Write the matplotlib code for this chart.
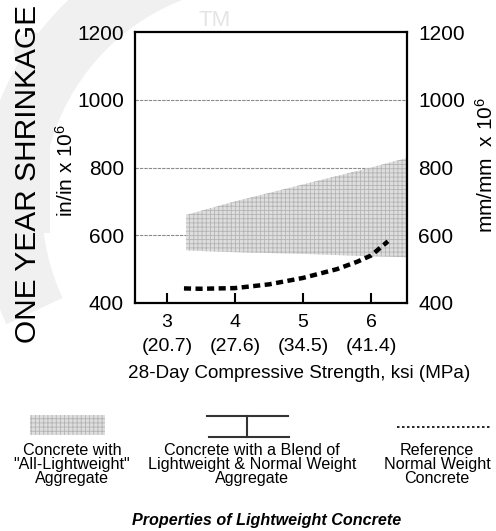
"""
One-year shrinkage vs 28-day compressive strength for lightweight concrete.
"""
import matplotlib
matplotlib.use("Agg")
import matplotlib.pyplot as plt
from matplotlib.patches import Rectangle, Wedge, Circle

plt.rcParams['font.family'] = ['Liberation Sans', 'DejaVu Sans']
plt.rcParams['mathtext.fontset'] = 'custom'
plt.rcParams['mathtext.rm'] = 'Liberation Sans'
plt.rcParams['mathtext.default'] = 'rm'
plt.rcParams['hatch.linewidth'] = 0.6

# data
ksi_ticks = [3, 4, 5, 6]
mpa_labels = ["(20.7)", "(27.6)", "(34.5)", "(41.4)"]
shrink_ticks = [400, 600, 800, 1000, 1200]
grid_levels = [600, 800, 1000]

# "all-lightweight" band (upper / lower edges)
band_x = [3.28, 4.0, 5.0, 6.0, 6.53]
band_top = [660, 700, 750, 800, 828]
band_bot = [555, 550, 545, 538, 535]

# reference normal weight concrete
ref_x = [3.25, 3.5, 4.0, 4.5, 5.0, 5.5, 5.8, 6.0, 6.25]
ref_y = [443, 442, 444, 455, 474, 500, 522, 540, 582]

legend_labels = [
    'Concrete with\n"All-Lightweight"\nAggregate',
    "Concrete with a Blend of\nLightweight & Normal Weight\nAggregate",
    "Reference\nNormal Weight\nConcrete",
]

W, H = 496, 531
fig = plt.figure(figsize=(W / 100, H / 100), dpi=100)

# full-figure canvas in pixel units (y down) for the watermark and legend row
bg = fig.add_axes([0, 0, 1, 1], zorder=-1)
bg.set_xlim(0, W)
bg.set_ylim(H, 0)
bg.axis("off")

# faint logo watermark
bg.add_patch(Wedge((262, 205), 282, 155, 250, width=62,
                   facecolor="#f0f0f0", edgecolor="none"))
bg.add_patch(Rectangle((13, 82), 37, 151, facecolor="#f0f0f0",
                       edgecolor="none"))
bg.add_patch(Circle((32, 50), 18, facecolor="#f0f0f0", edgecolor="none"))
bg.text(215, 20, "TM", fontsize=16, color="#e4e4e4", ha="center",
        va="center")

ax = fig.add_axes([135 / W, 1 - 303 / H, 272 / W, 271 / H], zorder=1)
ax.patch.set_alpha(0)
ax.set_xlim(2.53, 6.53)
ax.set_ylim(400, 1200)

for g in grid_levels:
    ax.axhline(g, color="#8a8a8a", lw=0.8, ls=(0, (3, 1)), zorder=1)

ax.fill_between(band_x, band_bot, band_top, facecolor="#dedede",
                edgecolor="#b4b4b4", hatch="++++", lw=0, zorder=2)
ax.plot(ref_x, ref_y, color="black", lw=3.2, ls=(0, (1.6, 1.0)),
        zorder=3)

for s in ax.spines.values():
    s.set_linewidth(1.6)

ax.set_xticks(ksi_ticks)
ax.set_xticklabels([f"{k}\n{m}" for k, m in zip(ksi_ticks, mpa_labels)],
                   fontsize=14, linespacing=1.5)
ax.tick_params(axis="x", direction="in", length=7, width=1.5, pad=8)
ax.set_yticks(shrink_ticks)
ax.set_yticklabels([str(v) for v in shrink_ticks], fontsize=15)
ax.tick_params(axis="y", length=0, pad=8, labelright=True)

fig.text(299 / W, 1 - 374 / H, "28-Day Compressive Strength, ksi (MPa)",
         fontsize=13.6, ha="center", va="center")
fig.text(28 / W, 1 - 174 / H, "ONE YEAR SHRINKAGE", rotation=90,
         fontsize=21.5, ha="center", va="center")
fig.text(66 / W, 1 - 170 / H, "in/in x 10$^{6}$", rotation=90, fontsize=15,
         ha="center", va="center")
fig.text(486 / W, 1 - 165 / H, "mm/mm  x 10$^{6}$", rotation=90,
         fontsize=15, ha="center", va="center")

# legend row drawn below the axes
bg.add_patch(Rectangle((30, 415), 75, 20, facecolor="#dedede",
                       edgecolor="#b4b4b4", hatch="++++", lw=0))
bg.plot([207, 288], [416, 416], color="#333333", lw=1.5)
bg.plot([209, 289], [437, 437], color="#333333", lw=1.5)
bg.plot([247, 247], [416, 437], color="#333333", lw=1.5)
bg.plot([397, 490], [427, 427], color="black", lw=1.2, ls=(0, (1.5, 1.5)))

for cx, lab in zip([72, 252, 437], legend_labels):
    bg.text(cx, 443, lab, fontsize=11.6, ha="center", va="top",
            linespacing=0.9)

bg.text(267, 521, "Properties of Lightweight Concrete", fontsize=11.6,
        fontweight="bold", fontstyle="italic", ha="center", va="center")

fig.savefig("out.png", dpi=100)
